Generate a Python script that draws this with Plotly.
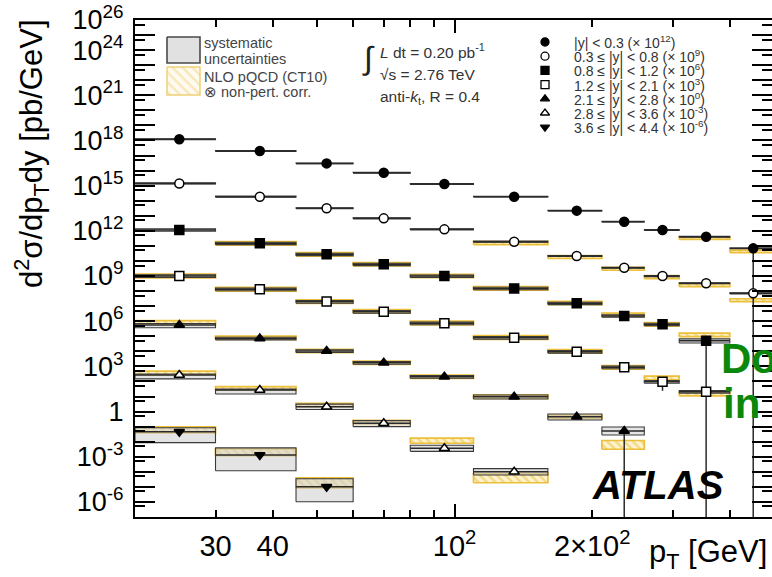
import math
import plotly.graph_objects as go

FONT = "Liberation Sans, Arial, Helvetica, sans-serif"

# ---------------- data ----------------
pt_edges = [20, 30, 45, 60, 80, 110, 160, 210, 260, 310, 400, 500]

rapidity_bins = ["|y| &lt; 0.3", "0.3 ≤ |y| &lt; 0.8", "0.8 ≤ |y| &lt; 1.2",
                 "1.2 ≤ |y| &lt; 2.1", "2.1 ≤ |y| &lt; 2.8", "2.8 ≤ |y| &lt; 3.6",
                 "3.6 ≤ |y| &lt; 4.4"]
scale_exp = [12, 9, 6, 3, 0, -3, -6]

# cross sections in pb/GeV (before the legend scale factors)
xsec_y1 = [1.20e6, 2.00e5, 3.02e4, 7.24e3, 1.29e3, 186, 21.9, 4.07, 1.15, 0.407, 0.069]
xsec_y2 = [1.41e6, 1.86e5, 3.16e4, 6.76e3, 1.26e3, 191, 21.4, 3.55, 1.00, 0.331, 0.0708]
xsec_y3 = [1.15e6, 1.48e5, 2.75e4, 6.03e3, 1.00e3, 151, 15.5, 2.24, 0.617, 0.0513]
xsec_y4 = [1.00e6, 1.32e5, 2.00e4, 4.27e3, 724, 79.4, 9.55, 0.871, 0.0955, 0.0209]
xsec_y5 = [5.62e5, 7.24e4, 1.05e4, 1.74e3, 204, 9.77, 0.457, 0.0513]
xsec_y6 = [2.69e5, 2.69e4, 2.09e3, 166, 3.63, 0.102]
xsec_y7 = [4.57e4, 1.32e3, 10.2]
xsec_all = [xsec_y1, xsec_y2, xsec_y3, xsec_y4, xsec_y5, xsec_y6, xsec_y7]

# systematic uncertainty (relative, up / down)
sys_up = [[0.06] * 11, [0.08] * 11, [0.18] * 9 + [0.3], [0.2] * 10,
          [0.25, 0.2, 0.2, 0.2, 0.2, 0.3, 0.5, 0.85],
          [0.15, 0.15, 0.5, 0.5, 0.6, 0.6],
          [0.85, 1.95, 2.4]]
sys_dn = [[0.06] * 11, [0.08] * 11, [0.18] * 9 + [0.3], [0.2] * 10,
          [0.35, 0.2, 0.2, 0.2, 0.2, 0.3, 0.4, 0.46],
          [0.45, 0.45, 0.35, 0.4, 0.37, 0.4],
          [0.81, 0.91, 0.9]]

# NLO pQCD (CT10) x non-pert. corr. : ratio theory/data and relative band width
theory_ratio = [[None] * 9 + [0.8, 0.63],
                [None] * 5 + [0.8, 0.85, 0.85, 0.85, 0.75, 0.35],
                [None, 1.0, 1.0, 1.0, 1.0, 1.0, 1.05, 1.2, 1.0, 2.4],
                [1.0, 1.0, 1.0, 1.05, 1.05, 1.05, 1.05, 1.0, 1.8, 0.7],
                [1.5, 1.1, 1.0, 1.0, 1.0, 1.0, 1.0, 0.12],
                [1.35, 1.3, 1.3, 1.2, 3.2, 0.37],
                [1.35, 1.5, 1.8]]
theory_unc = [[0.2] * 11, [0.25] * 11, [0.3] * 10, [0.32] * 10,
              [0.3] * 7 + [0.95],
              [0.35, 0.3, 0.3, 0.3, 0.47, 1.0],
              [0.58, 0.7, 1.15]]

# statistical uncertainty (relative, up / down)
stat_up = [[0] * 11, [0] * 11, [0] * 10, [0] * 10,
           [0] * 7 + [0.85], [0] * 6, [0] * 3]
stat_dn = [[0] * 10 + [1.0], [0] * 11, [0] * 9 + [1.0], [0] * 8 + [0.75, 0],
           [0] * 7 + [1.0], [0] * 6, [0] * 3]

symbols = ["circle", "circle", "square", "square", "triangle-up", "triangle-up", "triangle-down"]
filled = [True, False, True, False, True, False, True]

x_tickvals = [30, 40, 50, 60, 70, 80, 90, 100, 200, 300, 400]
x_ticktext = ["30", "40", "", "", "", "", "", "10<sup>2</sup>", "2×10<sup>2</sup>", "", ""]
y_labelled = [26, 24, 21, 18, 15, 12, 9, 6, 3, 0, -3, -6]

# ---------------- geometry of the frame ----------------
W, H = 772, 577
L, R, T, B = 135, 772, 20, 517
XMIN_LOG = math.log10(20)
XMAX_LOG = XMIN_LOG + (R - L) / 457.2


def pxx(x):
    return (x - L) / (R - L)


def pxy(y):
    return (B - y) / (B - T)


lo_e = pt_edges[:-1]
hi_e = pt_edges[1:]
centers = [(a + b) / 2 for a, b in zip(lo_e, hi_e)]

fig = go.Figure()

sx, sy = [], []
tx, ty = [], []
for i, xs in enumerate(xsec_all):
    f = 10 ** scale_exp[i]
    for j, v0 in enumerate(xs):
        v = v0 * f
        lo = v * (1 - sys_dn[i][j])
        hi = v * (1 + sys_up[i][j])
        sx += [lo_e[j], hi_e[j], hi_e[j], lo_e[j], lo_e[j], None]
        sy += [lo, lo, hi, hi, lo, None]
        r = theory_ratio[i][j]
        if r is not None:
            c = v * r
            u = theory_unc[i][j]
            tlo, thi = c / (1 + u), c * (1 + u)
            tx += [lo_e[j], hi_e[j], hi_e[j], lo_e[j], lo_e[j], None]
            ty += [tlo, tlo, thi, thi, tlo, None]

# theory bands (hatched yellow)
fig.add_trace(go.Scatter(x=tx, y=ty, mode="lines", fill="toself",
                         fillcolor="rgba(253,240,196,0.9)",
                         fillpattern=dict(shape="\\", fgcolor="#e9bb3a",
                                          bgcolor="rgba(253,242,200,0.9)",
                                          size=6, solidity=0.4),
                         line=dict(color="#ecbf3c", width=1.7),
                         hoverinfo="skip", showlegend=False))
# systematic boxes (grey, translucent)
fig.add_trace(go.Scatter(x=sx, y=sy, mode="lines", fill="toself",
                         fillcolor="rgba(205,205,205,0.55)",
                         line=dict(color="#3a3a3a", width=1.1),
                         hoverinfo="skip", showlegend=False))

# data points
for i, xs in enumerate(xsec_all):
    f = 10 ** scale_exp[i]
    n = len(xs)
    vals = [v * f for v in xs]
    fig.add_trace(go.Scatter(
        x=centers[:n], y=vals, mode="markers",
        marker=dict(symbol=symbols[i], size=9,
                    color="black" if filled[i] else "white",
                    line=dict(color="black", width=1.5)),
        error_x=dict(type="data", symmetric=False,
                     array=[hi_e[j] - centers[j] for j in range(n)],
                     arrayminus=[centers[j] - lo_e[j] for j in range(n)],
                     color="#2a2a2a", thickness=1.5, width=0),
        error_y=dict(type="data", symmetric=False,
                     array=[vals[j] * stat_up[i][j] for j in range(n)],
                     arrayminus=[vals[j] * stat_dn[i][j] for j in range(n)],
                     color="#2a2a2a", thickness=1.5, width=0),
        hoverinfo="skip", showlegend=False))

# empty trace so the overlay axis carrying the long 10^2 tick is drawn
fig.add_trace(go.Scatter(x=[], y=[], xaxis="x2", yaxis="y", showlegend=False))

# ---------------- legends (drawn on a pixel-like auxiliary axis) ----------------
fig.add_trace(go.Scatter(x=[167, 200, 200, 167, 167], y=[37, 37, 63, 63, 37],
                         xaxis="x3", yaxis="y3", mode="lines", fill="toself",
                         fillcolor="#e1e1e1", line=dict(color="#4a4a4a", width=1.6),
                         hoverinfo="skip", showlegend=False))
fig.add_trace(go.Scatter(x=[167, 200, 200, 167, 167], y=[67, 67, 95, 95, 67],
                         xaxis="x3", yaxis="y3", mode="lines", fill="toself",
                         fillcolor="#fffaf0",
                         fillpattern=dict(shape="\\", fgcolor="#f0cf72", bgcolor="#fffaf0",
                                          size=7, solidity=0.3),
                         line=dict(color="#f0d078", width=1.5),
                         hoverinfo="skip", showlegend=False))
leg_rows = [42 + 14.2 * k for k in range(7)]
fig.add_trace(go.Scatter(x=[545] * 7, y=leg_rows, xaxis="x3", yaxis="y3", mode="markers",
                         marker=dict(symbol=symbols, size=8,
                                     color=["black" if f else "white" for f in filled],
                                     line=dict(color="black", width=1.3)),
                         hoverinfo="skip", showlegend=False))

anns = []


def ann(text, x, y, size, xanchor="left", yanchor="middle", color="black", angle=0):
    anns.append(dict(text=text, x=pxx(x), y=pxy(y), xref="paper", yref="paper",
                     xanchor=xanchor, yanchor=yanchor, showarrow=False,
                     textangle=angle, font=dict(size=size, color=color, family=FONT)))


ann("systematic", 202, 43, 14.5, color="#444")
ann("uncertainties", 202, 59, 14.5, color="#444")
ann("NLO pQCD (CT10)", 202, 77, 14.5, color="#444")
ann("⊗ non-pert. corr.", 202, 92, 14.5, color="#444")

for k in range(7):
    ann(f"{rapidity_bins[k]} (× 10<sup>{scale_exp[k]}</sup>)", 572, leg_rows[k], 14, color="#333")

ann("∫", 368, 58, 32, xanchor="center", color="#222")
ann("<i>L</i> dt = 0.20 pb<sup>-1</sup>", 378, 51, 15.5, color="#333")
ann("√s = 2.76 TeV", 378, 75, 15.5, color="#333")
ann("anti-<i>k</i><sub>t</sub>, R = 0.4", 378, 97, 15.5, color="#333")

ann("<b><i>ATLAS</i></b>", 658, 485, 40, xanchor="center")
ann("d<sup>2</sup>σ/dp<sub>T</sub>dy [pb/GeV]", 31, 154, 31, xanchor="center", angle=-90)
ann("p<sub>T</sub> [GeV]", 769, 554, 31, xanchor="right")

ann("<b>Do</b>", 719, 358, 42, color="#0b870b")
ann("<b>in</b>", 721, 403, 42, color="#0b870b")

y_tickvals = [10.0 ** d for d in range(-7, 27)]
y_ticktext = [("1" if d == 0 else f"10<sup>{d}</sup>") if d in y_labelled else ""
              for d in range(-7, 27)]
y_minor = [5 * 10.0 ** d for d in range(-7, 26)]

axis_common = dict(showgrid=False, zeroline=False, showline=True, linecolor="black",
                   linewidth=2, ticks="inside", tickcolor="black", tickwidth=1.5,
                   mirror="ticks")

fig.update_layout(
    width=W, height=H,
    margin=dict(l=L, r=W - R, t=T, b=H - B, autoexpand=False),
    paper_bgcolor="white", plot_bgcolor="white",
    showlegend=False,
    font=dict(family=FONT, color="black"),
    annotations=anns,
    xaxis=dict(type="log", range=[XMIN_LOG, XMAX_LOG], tickmode="array",
               tickvals=x_tickvals, ticktext=x_ticktext, ticklen=7,
               tickfont=dict(size=29, family=FONT), ticklabelstandoff=2, **axis_common),
    xaxis2=dict(type="log", range=[XMIN_LOG, XMAX_LOG], overlaying="x", anchor="y",
                tickmode="array", tickvals=[100], ticktext=[""], ticklen=13,
                showticklabels=False, **axis_common),
    yaxis=dict(type="log", range=[-7, 26], tickmode="array",
               tickvals=y_tickvals, ticktext=y_ticktext, ticklen=20,
               minor=dict(tickvals=y_minor, ticklen=10, tickwidth=1.5, tickcolor="black",
                          ticks="inside"),
               tickfont=dict(size=27, family=FONT), ticklabelstandoff=4, **axis_common),
    xaxis3=dict(range=[L, R], overlaying="x", anchor="y3", visible=False),
    yaxis3=dict(range=[B, T], overlaying="y", anchor="x3", visible=False),
)

fig.write_html("out.html")
